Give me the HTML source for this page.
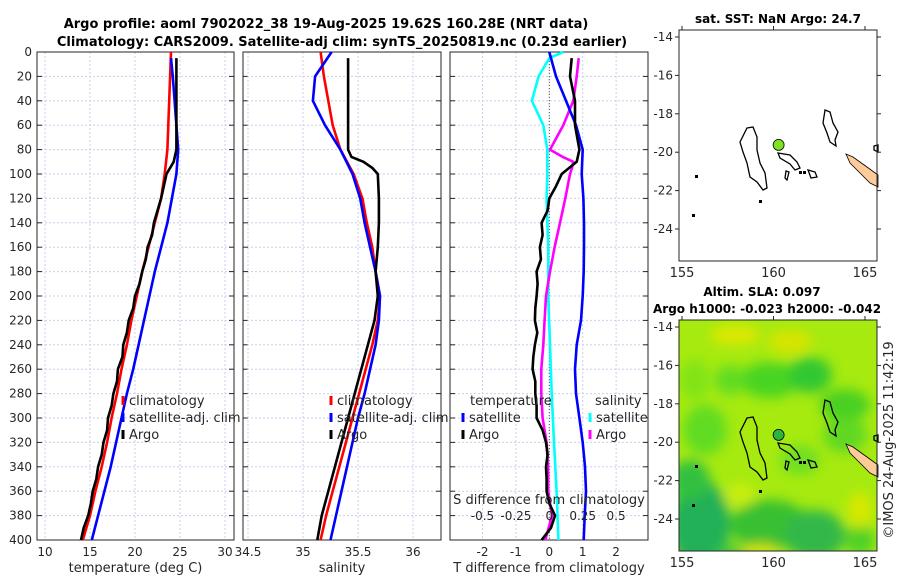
<!DOCTYPE html>
<html><head><meta charset="utf-8">
<style>
body{margin:0;background:#fff;}
svg{display:block;font-family:"DejaVu Sans","Liberation Sans",sans-serif;}
.t{font-size:12px;fill:#262626;}
.l{font-size:13px;fill:#262626;}
.b{font-size:13px;font-weight:bold;fill:#000;}
</style></head>
<body>
<svg id="fig" width="900" height="580" viewBox="0 0 900 580" xmlns="http://www.w3.org/2000/svg">
<text class="b" x="326" y="28" text-anchor="middle">Argo profile: aoml 7902022_38 19-Aug-2025 19.62S 160.28E (NRT data)</text>
<text class="b" x="342" y="46" text-anchor="middle">Climatology: CARS2009. Satellite-adj clim: synTS_20250819.nc (0.23d earlier)</text>
<g id="plots"></g>
<g id="maps"></g>
<text class="l" transform="translate(893,440) rotate(-90)" text-anchor="middle">©IMOS 24-Aug-2025 11:42:19</text>
</svg>
<script>
// ---------- data ----------
const depths = [0,20,40,60,80,100,120,140,160,180,200,220,240,260,280,300,320,340,360,380,400];
const depthTicks = [0,20,40,60,80,100,120,140,160,180,200,220,240,260,280,300,320,340,360,380,400];
const tempClim = [24.0,23.9,23.8,23.7,23.6,23.3,22.9,22.2,21.5,20.8,20.2,19.6,19.1,18.5,18.0,17.4,16.9,16.3,15.6,15.0,14.2];
const tempSat  = [24.0,24.2,24.4,24.6,24.8,24.6,24.1,23.6,22.9,22.2,21.6,21.0,20.4,19.8,19.1,18.5,17.9,17.3,16.6,15.9,15.2];
const argoDepths = [5,20,40,60,80,90,100,110,120,130,140,150,160,170,180,190,200,210,220,230,240,250,260,270,280,290,300,310,320,330,340,350,360,370,380,390,400];
const tempArgo = [24.6,24.6,24.6,24.6,24.6,24.3,23.5,23.2,22.9,22.5,22.1,21.9,21.4,21.2,20.8,20.5,20.0,19.8,19.3,19.1,18.7,18.6,18.1,18.0,17.6,17.4,17.0,16.9,16.5,16.3,15.9,15.7,15.3,15.1,14.8,14.3,14.0];
const salClim = [35.16,35.19,35.23,35.27,35.34,35.46,35.54,35.58,35.63,35.66,35.70,35.68,35.63,35.57,35.51,35.45,35.39,35.33,35.27,35.21,35.16];
const salSat  = [35.26,35.11,35.09,35.20,35.34,35.45,35.52,35.56,35.61,35.66,35.70,35.69,35.66,35.61,35.56,35.50,35.45,35.40,35.35,35.30,35.25];
const salArgoDepths = [5,20,40,60,80,86,90,95,100,120,140,160,180,200,220,240,260,280,300,320,340,360,380,400];
const salArgo = [35.41,35.41,35.41,35.41,35.41,35.44,35.55,35.63,35.68,35.69,35.69,35.68,35.66,35.68,35.65,35.59,35.53,35.47,35.41,35.35,35.29,35.23,35.17,35.13];
const tDiffSat  = [0.0,0.2,0.5,0.8,1.0,0.97,1.02,1.04,1.04,1.03,1.0,0.95,0.82,0.77,0.8,0.9,1.0,1.07,1.1,1.06,1.03];
const tDiffArgo = [0.67,0.62,0.77,0.77,0.9,0.82,0.37,0.2,0.0,-0.05,-0.23,-0.2,-0.28,-0.25,-0.38,-0.35,-0.38,-0.42,-0.43,-0.36,-0.43,-0.48,-0.5,-0.42,-0.42,-0.38,-0.38,-0.2,-0.1,-0.05,-0.1,-0.08,-0.08,0.0,0.17,0.05,-0.23];
const sDiffSatDepths = [0,5,20,40,60,80,100,120,160,200,240,280,320,360,400];
const sDiffSat  = [0.105,0.0,-0.08,-0.13,-0.045,-0.015,-0.015,-0.02,-0.008,-0.008,0.005,0.018,0.035,0.055,0.068];
const sDiffArgo = [0.22,0.205,0.18,0.105,0.005,0.1,0.18,0.17,0.155,0.12,0.08,0.04,0.005,-0.025,-0.035,-0.045,-0.06,-0.06,-0.05,-0.02,-0.01,-0.008,0.02,-0.03];
const tempTicks = [10,15,20,25,30];
const salTicks = [34.5,35,35.5,36];
const tDiffTicks = [-2,-1,0,1,2];
const sDiffTicks = [-0.5,-0.25,0,0.25,0.5];
const latTicks = [-14,-16,-18,-20,-22,-24];
const lonTicks = [155,160,165];
const argoLon = 160.28, argoLat = -19.62;

// ---------- helpers ----------
const NS = "http://www.w3.org/2000/svg";
function mk(tag, attrs, parent){const e=document.createElementNS(NS,tag);for(const k in attrs)e.setAttribute(k,attrs[k]);parent.appendChild(e);return e;}
const Y0 = 52, Y1 = 540;
const yD = d => Y0 + (d/400)*(Y1-Y0);
const plots = document.getElementById('plots');

function panel(name, x0, x1, xScale, ticks, fmt, xlabel, showY){
  const g = mk('g',{},plots);
  
  
  depthTicks.forEach(d=>{
    const gl = mk('line',{x1:x0,x2:x1,y1:yD(d),y2:yD(d),stroke:'#c8d0ec','stroke-width':1,'stroke-dasharray':'2,2'},g);
    
    
    mk('line',{x1:x0,x2:x0+5,y1:yD(d),y2:yD(d),stroke:'#262626'},g);
    mk('line',{x1:x1-5,x2:x1,y1:yD(d),y2:yD(d),stroke:'#262626'},g);
    if(showY){
      const t = mk('text',{x:x0-5,y:yD(d)+4,'text-anchor':'end',class:'t'},g);
      t.textContent = d;
      
      
    }
  });
  ticks.forEach(v=>{
    const x = xScale(v);
    mk('line',{x1:x,x2:x,y1:Y0,y2:Y1,stroke:'#c8d0ec','stroke-dasharray':'2,2'},g);
    const t = mk('text',{x:x,y:556,'text-anchor':'middle',class:'t'},g);
    t.textContent = fmt(v);
    
    
  });
  const r = mk('rect',{x:x0,y:Y0,width:x1-x0,height:Y1-Y0,fill:'none',stroke:'#262626'},g);
  
  
  const xl = mk('text',{x:(x0+x1)/2,y:572,'text-anchor':'middle',class:'l'},g);
  xl.textContent = xlabel;
  
  
  return g;
}
function line(g, name, xs, ds, xScale, color){
  const pts = xs.map((v,i)=>xScale(v).toFixed(1)+','+yD(ds[i]).toFixed(1)).join(' ');
  const p = mk('polyline',{points:pts,fill:'none',stroke:color,'stroke-width':2.6,'stroke-linejoin':'round'},g);
  
  
}
function legend(g, x, y, color, label, name){
  mk('line',{x1:x,x2:x,y1:y-9,y2:y,stroke:color,'stroke-width':3},g);
  const t = mk('text',{x:x+6,y:y,class:'l'},g);
  t.textContent = label;
  
  
}

const xT = v => 45 + (v-10)*9.0;
const g1 = panel('temperature-panel',37,234,xT,tempTicks,v=>v,'temperature (deg C)',true);
line(g1,'temp-climatology-line',tempClim,depths,xT,'#ff0000');
line(g1,'temp-satellite-adj-line',tempSat,depths.map(d=>d===0?5:d),xT,'#0000ff');
line(g1,'temp-argo-line',tempArgo,argoDepths,xT,'#000000');
legend(g1,123,405,'#ff0000','climatology','legend-climatology');
legend(g1,123,422,'#0000ff','satellite-adj. clim','legend-satellite-adj');
legend(g1,123,439,'#000000','Argo','legend-argo');

const xS = v => 248 + (v-34.5)*110;
const g2 = panel('salinity-panel',243,441,xS,salTicks,v=>v,'salinity',false);
line(g2,'sal-climatology-line',salClim,depths,xS,'#ff0000');
line(g2,'sal-satellite-adj-line',salSat,depths,xS,'#0000ff');
line(g2,'sal-argo-line',salArgo,salArgoDepths,xS,'#000000');
legend(g2,331,405,'#ff0000','climatology','legend-climatology');
legend(g2,331,422,'#0000ff','satellite-adj. clim','legend-satellite-adj');
legend(g2,331,439,'#000000','Argo','legend-argo');

const xTD = v => 549.3 + v*33.4;
const xSD = v => 549.3 + v*133.6;
const g3 = panel('difference-panel',450,648,xTD,tDiffTicks,v=>v,'T difference from climatology',false);
mk('line',{x1:xTD(0),x2:xTD(0),y1:Y0,y2:Y1,stroke:'#555','stroke-dasharray':'1,2'},g3);
line(g3,'sal-diff-satellite-line',sDiffSat,sDiffSatDepths,xSD,'#00ffff');
line(g3,'sal-diff-argo-line',sDiffArgo,salArgoDepths,xSD,'#ff00ff');
line(g3,'temp-diff-satellite-line',tDiffSat,depths,xTD,'#0000ff');
line(g3,'temp-diff-argo-line',tDiffArgo,argoDepths,xTD,'#000000');
{
  const t = mk('text',{x:470,y:405,class:'l'},g3); t.textContent='temperature';
   
  const s = mk('text',{x:595,y:405,class:'l'},g3); s.textContent='salinity';
   
}
legend(g3,463,422,'#0000ff','satellite','legend-temp-satellite');
legend(g3,463,439,'#000000','Argo','legend-temp-argo');
legend(g3,590,422,'#00ffff','satellite','legend-sal-satellite');
legend(g3,590,439,'#ff00ff','Argo','legend-sal-argo');
{
  const t = mk('text',{x:549,y:504,'text-anchor':'middle',class:'l'},g3); t.textContent='S difference from climatology';
   
  sDiffTicks.forEach(v=>{
    const l = mk('text',{x:xSD(v),y:520,'text-anchor':'middle',class:'t'},g3);
    l.textContent = v;
    
    
  });
}

// ---------- maps ----------
const maps = document.getElementById('maps');
const MX0=679, MX1=877;
const lonX = lon => 682 + (lon-155)*18.3;
function drawMap(name, top, title1, filled){
  const latY = lat => top+7 + (-14-lat)*19.2;
  const g = mk('g',{},maps);
  
  
  const H = 231;
  if(filled){
    const cid = 'clip'+top;
    const defs = mk('defs',{},g);
    const cp = mk('clipPath',{id:cid},defs);
    mk('rect',{x:MX0,y:top,width:MX1-MX0,height:H},cp);
    const f = mk('filter',{id:'blur'+top},defs);
    mk('feGaussianBlur',{stdDeviation:6},f);
    const bg = mk('g',{'clip-path':'url(#'+cid+')'},g);
    mk('rect',{x:MX0,y:top,width:MX1-MX0,height:H,fill:'#a6ea10'},bg);
    const bl = mk('g',{filter:'url(#blur'+top+')'},bg);
    [[770,60,30,18,'#48d420'],[810,55,22,18,'#30c830'],[845,85,25,16,'#48d020'],[705,110,22,25,'#60dc20'],
     [730,60,15,15,'#60dc20'],[695,60,15,20,'#80e418'],
     [700,205,30,45,'#20b058'],[690,160,20,20,'#30c040'],[770,205,40,25,'#38c030'],[815,215,30,25,'#30b848'],
     [845,115,22,18,'#60d820'],[860,220,15,15,'#50d028'],[800,140,20,15,'#70e020'],[740,235,25,10,'#40c838']]
     .forEach(b=>mk('ellipse',{cx:b[0],cy:top+b[1],rx:b[2],ry:b[3],fill:b[4]},bl));
    [[735,15,25,10,'#dde800'],[790,22,22,12,'#d8e400'],[860,190,12,18,'#d8e800'],[760,232,20,8,'#d8e400'],[740,175,15,12,'#c8ee08']]
     .forEach(b=>mk('ellipse',{cx:b[0],cy:top+b[1],rx:b[2],ry:b[3],fill:b[4]},bl));
  }
  const off = top-30;
  const isl = 'fill:none;stroke:#000;stroke-width:1.3';
  const paths = [
    'M747,128 L753,127 L757,137 L757,150 L760,163 L765,173 L767,188 L763,190 L757,182 L750,177 L747,163 L743,152 L740,142 Z',
    'M825,110 L830,112 L833,123 L838,132 L835,140 L836,146 L830,142 L827,133 L823,123 Z',
    'M778,153 L790,155 L797,162 L800,168 L795,170 L790,164 L780,158 Z',
    'M808,170 L815,172 L817,177 L811,178 Z',
    'M786,171 L789,172 L787,180 L785,178 Z',
    'M874,146 L878,145 L878,152 L874,150 Z'
  ];
  paths.forEach(d=>{const p=mk('path',{d:d,transform:'translate(0,'+off+')',style:isl},g);
     });
  const nc = mk('path',{d:'M846,154 L853,157 L867,167 L878,175 L878,187 L870,183 L860,173 L850,163 Z',transform:'translate(0,'+off+')',fill:'#ffcc99',stroke:'#000','stroke-width':0.8},g);
  
  
  [[695,175],[692,214],[759,200],[799,171],[803,171]].forEach(p=>mk('rect',{x:p[0],y:p[1]+off,width:3,height:3,fill:'#000'},g));
  const dot = mk('circle',{cx:lonX(argoLon),cy:latY(argoLat),r:5.5,fill:filled?'#2cb43c':'#7ee21e',stroke:'#000','stroke-width':0.8},g);
  
  
  const r = mk('rect',{x:MX0,y:top,width:MX1-MX0,height:H,fill:'none',stroke:'#262626'},g);
   
  latTicks.forEach(v=>{
    mk('line',{x1:MX0-4,x2:MX0,y1:latY(v),y2:latY(v),stroke:'#262626'},g);
    mk('line',{x1:MX1,x2:MX1+4,y1:latY(v),y2:latY(v),stroke:'#262626'},g);
    const t = mk('text',{x:MX0-6,y:latY(v)+4,'text-anchor':'end',class:'t'},g);
    t.textContent = v;
     
  });
  lonTicks.forEach(v=>{
    mk('line',{x1:lonX(v),x2:lonX(v),y1:top-4,y2:top,stroke:'#262626'},g);
    const t = mk('text',{x:lonX(v),y:top+H+16,'text-anchor':'middle',class:'l'},g);
    t.textContent = v;
     
  });
  title1.forEach(tt=>{
    const t = mk('text',{x:tt[1],y:tt[2],'text-anchor':tt[3],class:'b',style:'font-size:12px'},g);
    t.textContent = tt[0];
     
  });
}
drawMap('sst-map',30,[['sat. SST: NaN Argo: 24.7',778,23,'middle']],false);
drawMap('sla-map',320,[['Altim. SLA: 0.097',762,296,'middle'],['Argo h1000: -0.023 h2000: -0.042',653,313,'start']],true);
</script>
</body></html>
